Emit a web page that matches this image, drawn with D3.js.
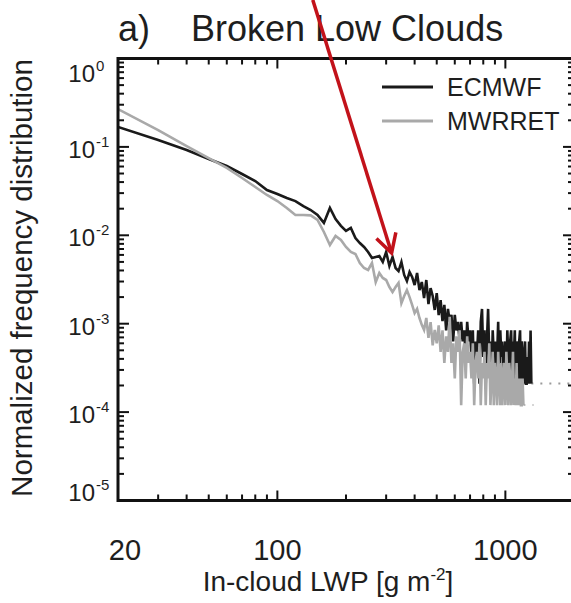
<!DOCTYPE html>
<html><head><meta charset="utf-8">
<script src="https://cdn.jsdelivr.net/npm/d3@7"></script>
<style>
body{margin:0;background:#fff}
svg{display:block}
text{font-family:"Liberation Sans",Arial,Helvetica,sans-serif;fill:#1e1e1e}
</style>
</head><body><svg id="c" width="571" height="603"></svg>
<script>
// In-cloud LWP bin centres [g m-2]
const lwpBins = [20,30,40,50,60,70,80,90,100,110,120,130,140,150,160,170,180,190,200,
210,220,230,240,250,260,270,280,290,300,310,320,330,340,350,360,370,380,390,400,
410,420,430,440,450,460,470,480,490,500,510,520,530,540,550,560,570,580,590,600,
610,620,630,640,650,660,670,680,690,700,710,720,730,740,750,760,770,780,790,800,
810,820,830,840,850,860,870,880,890,900,910,920,930,940,950,960,970,980,990,1000,
1010,1020,1030,1040,1050,1060,1070,1080,1090,1100,1110,1120,1130,1140,1150,1160,1170,1180,1190,1200,
1210,1220,1230,1240,1250,1260,1270,1280,1290,1300];

// ECMWF normalized frequency (one value per bin, 20..1300)
const ecmwf = [0.168,0.120,0.0923,0.0730,0.0608,0.0494,0.0411,0.0325,0.0293,0.0264,0.0244,0.0214,0.0193,0.0170,0.0138,0.0204,0.0153,0.0128,0.0112,
0.0121,0.00931,0.00818,0.00738,0.00648,0.00554,0.00568,0.00583,0.00499,0.00648,0.00450,0.00568,0.00427,0.00394,0.00499,0.00356,0.00304,0.00384,0.00338,0.00274,
0.00375,0.00240,0.00296,0.00195,0.00312,0.00167,0.00253,0.00206,0.00143,0.00222,0.00125,0.00185,0.00107,0.00163,0.00084,0.00147,0.00105,0.00126,0.00063,0.00126,
0.00084,0.00105,0.00063,0.00105,0.00063,0.00084,0.00042,0.00105,0.00063,0.00084,0.00042,0.00084,0.00021,0.00063,0.00042,0.00084,0.00021,0.00105,0.00147,0.00042,
0.00084,0.00021,0.00063,0.00147,0.00042,0.00063,0.00021,0.00084,0.00042,0.00063,0.00021,0.00042,0.00105,0.00021,0.00084,0.00042,0.00063,0.00021,0.00042,0.00063,
0.00021,0.00084,0.00042,0.00021,0.00063,0.00084,0.00021,0.00063,0.00042,0.00084,0.00021,0.00063,0.00042,0.00021,0.00063,0.00084,0.00021,0.00063,0.00042,0.00021,
0.00042,0.00063,0.00021,0.00021,0.00042,0.00021,0.00063,0.00021,0.00084,0.00021];

// MWRRET normalized frequency (one value per bin, 20..1200)
const mwrret = [0.268,0.155,0.102,0.0748,0.0578,0.0445,0.0352,0.0286,0.0244,0.0204,0.0170,0.0170,0.0168,0.0149,0.0109,0.00776,0.00982,0.00885,0.00738,
0.00648,0.00614,0.00486,0.00427,0.00405,0.00486,0.00296,0.00375,0.00329,0.00312,0.00260,0.00228,0.00260,0.00289,0.00171,0.00206,0.00240,0.00200,0.00163,0.00132,
0.00147,0.00116,0.00097,0.00085,0.00116,0.00069,0.00104,0.00057,0.00085,0.00060,0.00096,0.00048,0.00084,0.00036,0.00072,0.00048,0.00120,0.00036,0.00060,0.00024,
0.00072,0.00048,0.00084,0.00012,0.00048,0.00060,0.00024,0.00072,0.00036,0.00048,0.00024,0.00060,0.00012,0.00036,0.00048,0.00024,0.00060,0.00012,0.00036,0.00024,
0.00048,0.00012,0.00036,0.00024,0.00060,0.00012,0.00024,0.00048,0.00012,0.00036,0.00024,0.00012,0.00048,0.00024,0.00012,0.00036,0.00012,0.00024,0.00036,0.00012,
0.00048,0.00024,0.00012,0.00036,0.00024,0.00012,0.00024,0.00048,0.00012,0.00024,0.00012,0.00036,0.00012,0.00024,0.00012,0.00024,0.00012,0.00012,0.00024,0.00012];

// faint dotted tails at the one-count floor
const ecmwfTailLWP = [1300, 2000], ecmwfTail = [0.00021, 0.00021];
const mwrretTailLWP = [1200, 1330], mwrretTail = [0.00012, 0.00012];

const seriesNames = ["ECMWF", "MWRRET"];
const seriesColors = ["#1a1a1a", "#a9a9a9"];
const xTickLabels = [20, 100, 1000];
const yTickExponents = [0, -1, -2, -3, -4, -5];
const panelLabel = "a)", titleText = "Broken Low Clouds";
const xTitle = ["In-cloud LWP [g m", "-2", "]"];
const yTitle = "Normalized frequency distribution";
// annotation arrow: [LWP, frequency] of tail and tip
const arrowLWP = [143, 317], arrowFreq = [4.6, 0.0063];

const svg = d3.select("#c");
const L = 118, R = 574, T = 58.5, B = 500.5;
const x = d3.scaleLog().domain([20, 2000]).range([L, R]);
const y = d3.scaleLog().domain([1e-5, 1]).range([B, T]);

svg.append("defs").append("clipPath").attr("id","clip")
  .append("rect").attr("x",L).attr("y",T).attr("width",R-L).attr("height",B-T);

const line = d3.line().x(d => x(d[0])).y(d => y(d[1]));
const plot = svg.append("g").attr("clip-path","url(#clip)");

// dotted tails
plot.append("path").datum(ecmwfTailLWP.map((v,i)=>[v,ecmwfTail[i]]))
  .attr("d", line).attr("fill","none").attr("stroke","#9a9a9a").attr("stroke-width",2).attr("stroke-dasharray","2,7");
plot.append("path").datum(mwrretTailLWP.map((v,i)=>[v,mwrretTail[i]]))
  .attr("d", line).attr("fill","none").attr("stroke","#bbbbbb").attr("stroke-width",2).attr("stroke-dasharray","2,7");

plot.append("path").datum(lwpBins.map((v,i)=>[v,ecmwf[i]]))
  .attr("d", line).attr("fill","none").attr("stroke",seriesColors[0]).attr("stroke-width",2.6).attr("stroke-linejoin","miter");
plot.append("path").datum(mwrret.map((v,i)=>[lwpBins[i],v]))
  .attr("d", line).attr("fill","none").attr("stroke",seriesColors[1]).attr("stroke-width",2.6).attr("stroke-linejoin","miter");

// ticks
const tk = svg.append("g").attr("stroke","#111");
const isMajor = v => Math.abs(Math.log10(v) - Math.round(Math.log10(v))) < 1e-9;
x.ticks().filter(v => v > 20 && v <= 2000).forEach(v => {
  const len = isMajor(v) ? 10 : 6, px = x(v);
  tk.append("line").attr("x1",px).attr("x2",px).attr("y1",B).attr("y2",B-len).attr("stroke-width",2);
  tk.append("line").attr("x1",px).attr("x2",px).attr("y1",T).attr("y2",T+len).attr("stroke-width",2);
});
y.ticks().filter(v => v > 1e-5 && v < 1).forEach(v => {
  const len = isMajor(v) ? 11 : 6, py = y(v);
  tk.append("line").attr("x1",L).attr("x2",L+len).attr("y1",py).attr("y2",py).attr("stroke-width",2);
  tk.append("line").attr("x1",R).attr("x2",R-len).attr("y1",py).attr("y2",py).attr("stroke-width",2);
});

// frame
svg.append("rect").attr("x",L).attr("y",T).attr("width",R-L).attr("height",B-T)
  .attr("fill","none").attr("stroke","#111").attr("stroke-width",3);

// y tick labels
yTickExponents.forEach(e => {
  const py = y(Math.pow(10, e));
  const base = Math.min(Math.max(py + 11, 82), 501);
  svg.append("text").attr("x",95).attr("y",base).attr("text-anchor","end").attr("font-size",24).text("10");
  svg.append("text").attr("x",96).attr("y",base-11).attr("font-size",15).text(String(e));
});

// x tick labels
xTickLabels.forEach(v => {
  svg.append("text").attr("x",Math.max(x(v),125)).attr("y",560).attr("text-anchor","middle").attr("font-size",29).text(v);
});

// axis titles
const xt = svg.append("text").attr("x",328).attr("y",591).attr("text-anchor","middle").attr("font-size",28);
xt.append("tspan").text(xTitle[0]);
xt.append("tspan").attr("dy",-11).attr("font-size",17).text(xTitle[1]);
xt.append("tspan").attr("dy",11).text(xTitle[2]);

svg.append("text").attr("transform","translate(32,278) rotate(-90)").attr("text-anchor","middle")
  .attr("font-size",29.5).text(yTitle);

// title
svg.append("text").attr("x",118).attr("y",41).attr("font-size",36).text(panelLabel);
svg.append("text").attr("x",191).attr("y",41).attr("font-size",36).text(titleText);

// legend
seriesNames.forEach((n,i) => {
  const ly = 87 + i*34;
  svg.append("line").attr("x1",382).attr("x2",433).attr("y1",ly).attr("y2",ly)
    .attr("stroke",seriesColors[i]).attr("stroke-width",3);
  svg.append("text").attr("x",447).attr("y",ly+9).attr("font-size",25).text(n);
});

// annotation arrow
const ax0 = x(arrowLWP[0]), ay0 = y(arrowFreq[0]), ax1 = x(arrowLWP[1]), ay1 = y(arrowFreq[1]);
const ang = Math.atan2(ay0 - ay1, ax0 - ax1);
const head = 21, spread = 29 * Math.PI / 180;
const red = "#c2121a";
svg.append("line").attr("x1",ax0).attr("y1",ay0).attr("x2",ax1).attr("y2",ay1)
  .attr("stroke",red).attr("stroke-width",3.5);
svg.append("path")
  .attr("d", `M${ax1 + head*Math.cos(ang - spread)},${ay1 + head*Math.sin(ang - spread)}L${ax1},${ay1}L${ax1 + head*Math.cos(ang + spread)},${ay1 + head*Math.sin(ang + spread)}`)
  .attr("fill","none").attr("stroke",red).attr("stroke-width",3.5).attr("stroke-linejoin","miter");
</script>
</body></html>
